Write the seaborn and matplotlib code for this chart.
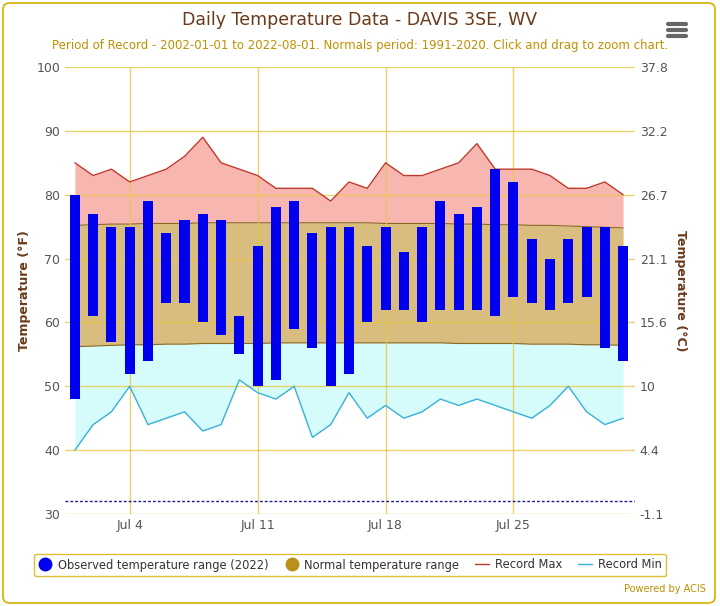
import numpy as np
import pandas as pd
import matplotlib.pyplot as plt
import seaborn as sns
from matplotlib.patches import FancyBboxPatch
from matplotlib.lines import Line2D

days = list(range(1, 32))
obs_high = [80, 77, 75, 75, 79, 74, 76, 77, 76, 61, 72, 78, 79, 74, 75, 75, 72, 75, 71, 75, 79, 77, 78, 84, 82, 73, 70, 73, 75, 75, 72]
obs_low = [48, 61, 57, 52, 54, 63, 63, 60, 58, 55, 50, 51, 59, 56, 50, 52, 60, 62, 62, 60, 62, 62, 62, 61, 64, 63, 62, 63, 64, 56, 54]
rec_max = [85, 83, 84, 82, 83, 84, 86, 89, 85, 84, 83, 81, 81, 81, 79, 82, 81, 85, 83, 83, 84, 85, 88, 84, 84, 84, 83, 81, 81, 82, 80]
rec_min = [40, 44, 46, 50, 44, 45, 46, 43, 44, 51, 49, 48, 50, 42, 44, 49, 45, 47, 45, 46, 48, 47, 48, 47, 46, 45, 47, 50, 46, 44, 45]
norm_high = [75.2, 75.3, 75.4, 75.4, 75.5, 75.5, 75.5, 75.6, 75.6, 75.6, 75.6, 75.6, 75.6, 75.6, 75.6, 75.6, 75.6, 75.5, 75.5, 75.5, 75.5, 75.4, 75.4, 75.3, 75.3, 75.2, 75.2, 75.1, 75.0, 74.9, 74.8]
norm_low = [56.2, 56.3, 56.4, 56.5, 56.5, 56.6, 56.6, 56.7, 56.7, 56.7, 56.7, 56.8, 56.8, 56.8, 56.8, 56.8, 56.8, 56.8, 56.8, 56.8, 56.8, 56.7, 56.7, 56.7, 56.7, 56.6, 56.6, 56.6, 56.5, 56.5, 56.4]
xtick_days = [4, 11, 18, 25]
xtick_labels = ["Jul 4", "Jul 11", "Jul 18", "Jul 25"]
f_ticks = [30, 40, 50, 60, 70, 80, 90, 100]
c_labels = ["-1.1", "4.4", "10", "15.6", "21.1", "26.7", "32.2", "37.8"]

df = pd.DataFrame({"day": days, "high": obs_high, "low": obs_low})
sns.set_style("white")
fig = plt.figure(figsize=(7.2, 6.06), dpi=100)
ax = fig.add_axes([65/720, 1-514/606, 570/720, 447/606])

gold = "#d4b000"
for t in f_ticks:
    ax.axhline(t, color="#e8c84a", lw=1, alpha=0.8, zorder=2.5)
for d in xtick_days:
    ax.axvline(d, color="#e8c84a", lw=1, alpha=0.8, zorder=2.5)

ax.fill_between(days, norm_high, rec_max, color="#f7b0a8", alpha=0.9, lw=0, zorder=1)
ax.fill_between(days, norm_low, norm_high, color="#d8bd7e", lw=0, zorder=1)
ax.fill_between(days, rec_min, norm_low, color="#d6fbfb", lw=0, zorder=1)
ax.plot(days, norm_high, color="#8a6a20", lw=0.8, zorder=2)
ax.plot(days, norm_low, color="#8a6a20", lw=0.8, zorder=2)
sns.lineplot(x=days, y=rec_max, color="#c0392b", lw=1, ax=ax, zorder=3)
sns.lineplot(x=days, y=rec_min, color="#3ab0d8", lw=1, ax=ax, zorder=3)
ax.bar(df["day"], df["high"] - df["low"], bottom=df["low"], width=0.55, color="#0000ee", lw=0, zorder=4)
ax.axhline(32, color="#1a1a8a", lw=1, ls=(0, (2, 1.5)), zorder=3)

ax.set_xlim(0.46, 31.65)
ax.set_ylim(30, 100)
ax.set_yticks(f_ticks)
ax.set_xticks(xtick_days)
ax.set_xticklabels(xtick_labels)
ax.tick_params(colors="#555555", labelsize=9, length=0)
for s in ax.spines.values():
    s.set_visible(False)
ax.set_ylabel("Temperature (°F)", color="#6b3a1a", fontsize=9, fontweight="bold")

ax2 = ax.twinx()
ax2.set_ylim(30, 100)
ax2.set_yticks(f_ticks)
ax2.set_yticklabels(c_labels)
ax2.tick_params(colors="#555555", labelsize=9, length=0)
for s in ax2.spines.values():
    s.set_visible(False)
ax2.set_ylabel("Temperature (°C)", color="#6b3a1a", fontsize=9, fontweight="bold", rotation=270, labelpad=14)

fig.text(0.5, 1-20/606, "Daily Temperature Data - DAVIS 3SE, WV", ha="center", va="center", fontsize=12.5, color="#6b3a1a")
fig.text(0.5, 1-46/606, "Period of Record - 2002-01-01 to 2022-08-01. Normals period: 1991-2020. Click and drag to zoom chart.",
         ha="center", va="center", fontsize=8.5, color="#c09000")
fig.text(706/720, 1-589/606, "Powered by ACIS", ha="right", va="center", fontsize=7, color="#c09000")
fig.patches.append(FancyBboxPatch((3/720, 3/606), 712/720, 600/606, boxstyle="round,pad=0,rounding_size=0.01",
                                  transform=fig.transFigure, fill=False, ec=gold, lw=1.2))
for yy in [24, 30, 36]:
    fig.add_artist(Line2D([668/720, 686/720], [1-yy/606]*2, color="#666666", lw=3, solid_capstyle="round"))

handles = [
    Line2D([], [], marker="o", ls="", color="#0000ee", markersize=9),
    Line2D([], [], marker="o", ls="", color="#b8901a", markersize=9),
    Line2D([], [], color="#c0392b", lw=1),
    Line2D([], [], color="#3ab0d8", lw=1),
]
labels = ["Observed temperature range (2022)", "Normal temperature range", "Record Max", "Record Min"]
leg = fig.legend(handles, labels, loc="center", bbox_to_anchor=(350/720, 1-565/606), ncol=4, fontsize=8.3,
                 frameon=True, edgecolor=gold, fancybox=True, handlelength=1.2, columnspacing=1.4,
                 handletextpad=0.5, borderpad=0.4)
for t in leg.get_texts():
    t.set_color("#333333")

fig.savefig("out.png", dpi=100)
